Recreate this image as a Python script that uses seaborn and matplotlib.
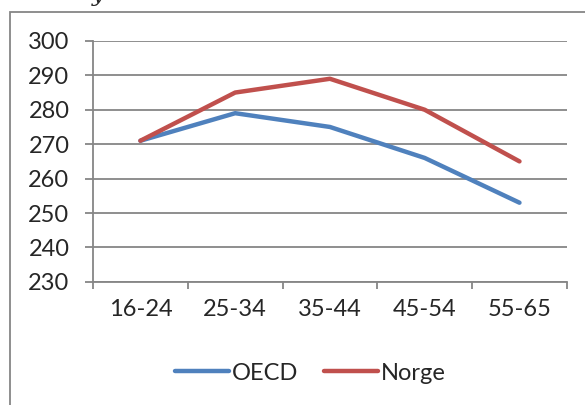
import matplotlib
matplotlib.use("Agg")
import matplotlib.pyplot as plt
import seaborn as sns
import pandas as pd
from matplotlib.patches import Rectangle

# data
age_groups = ['16-24', '25-34', '35-44', '45-54', '55-65']
oecd = [271, 279, 275, 266, 253]
norge = [271, 285, 289, 280, 265]

df = pd.DataFrame({
    'alder': age_groups * 2,
    'score': oecd + norge,
    'serie': ['OECD'] * len(oecd) + ['Norge'] * len(norge),
})

sns.set_style("white")
plt.rcParams['font.family'] = ['Lato', 'DejaVu Sans']

fig = plt.figure(figsize=(5.85, 4.05), dpi=100)
ax = fig.add_axes([0.159, 0.304, 0.81, 0.595])

sns.lineplot(data=df, x='alder', y='score', hue='serie', sort=False,
             palette={'OECD': '#4F81BD', 'Norge': '#C0504D'},
             linewidth=3.2, ax=ax, legend=True)

gray = '#868686'
ax.set_ylim(230, 300)
ax.set_yticks(range(230, 301, 10))
ax.set_xlim(-0.5, len(age_groups) - 0.5)
ax.set_xticks([i - 0.5 for i in range(len(age_groups) + 1)])
ax.set_xticklabels([])
ax.set_xticks(range(len(age_groups)), minor=True)
ax.set_xticklabels(age_groups, minor=True)
ax.grid(axis='y', color=gray, linewidth=1.3)
ax.set_axisbelow(True)
ax.set_xlabel('')
ax.set_ylabel('')
for side in ['top', 'right']:
    ax.spines[side].set_visible(False)
for side in ['left', 'bottom']:
    ax.spines[side].set_color(gray)
    ax.spines[side].set_linewidth(1.3)
ax.tick_params(axis='y', which='major', direction='out', length=6, width=1.3,
               color=gray, pad=11, labelsize=17, left=True)
ax.tick_params(axis='x', which='major', direction='out', length=5, width=1.3,
               color=gray, bottom=True)
ax.tick_params(axis='x', which='minor', length=0, pad=12, labelsize=17)

ax.legend_.remove()
handles, labels = ax.get_legend_handles_labels()
fig.legend(handles, labels, loc='center', bbox_to_anchor=(0.53, 0.079),
           ncol=2, frameon=False, fontsize=17, handlelength=2.3,
           handletextpad=0.1, columnspacing=1.1)

# outer frame of the chart object, cut off at right and bottom
fig.patches.append(Rectangle((10 / 585, -0.05), 1.2, 1 - 12 / 405 + 0.05,
                             transform=fig.transFigure, fill=False,
                             edgecolor=gray, linewidth=1.3))
# cropped letter from the text above the chart
fig.text(0.168, 1.012, 'y', family='DejaVu Serif', style='italic',
         fontsize=16, va='center', ha='center')

fig.savefig("out.png", dpi=100)
